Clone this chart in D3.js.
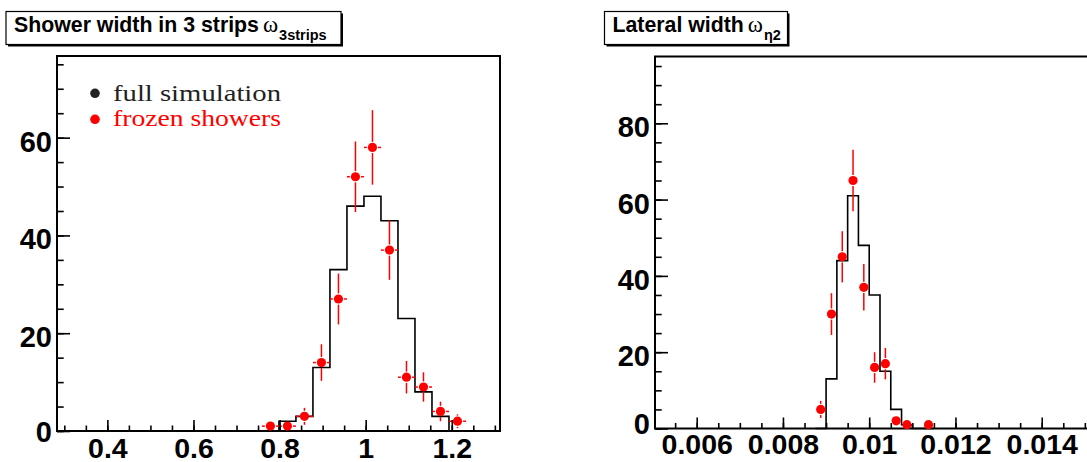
<!DOCTYPE html>
<html lang="en">
<head>
  <meta charset="UTF-8">
  <title>Shower widths</title>
  <script src="https://cdn.jsdelivr.net/npm/d3@7/dist/d3.min.js"></script>
  <style>
    body{ margin: 0; background: #fff; }
  </style>
</head>
<body>
  <div class="warp"></div>
  <script>
    // left pad: shower width in 3 strips
    var leftBinStart = 0.759;
    var leftBinWidth = 0.0395;
    var leftFull   = [0, 2, 3, 13, 33, 46, 48, 43, 23, 8, 3, 0];
    var leftFrozen = [1, 1, 3, 14, 27, 52, 58, 37, 11, 9, 4, 2];
    var leftXTicks  = [0.4, 0.6, 0.8, 1, 1.2];
    var leftXLabels = ['0.4', '0.6', '0.8', '1', '1.2'];
    var leftYTicks  = [0, 20, 40, 60];

    // right pad: lateral width
    var rightBinStart = 0.00875;
    var rightBinWidth = 0.00025;
    var rightFull   = [0, 13, 44, 61, 48, 35, 15, 5, 1, 0, 0];
    var rightFrozen = [5, 30, 45, 65, 37, 16, 17, 2, 1, 0, 1];
    var rightXTicks  = [0.006, 0.008, 0.01, 0.012, 0.014];
    var rightXLabels = ['0.006', '0.008', '0.01', '0.012', '0.014'];
    var rightYTicks  = [0, 20, 40, 60, 80];

    var legendLabels = ['full simulation', 'frozen showers'];
    var legendColors = ['#222', '#ff0000'];

    var SANS = '"Liberation Sans", Arial, Helvetica, sans-serif';
    var SERIF = '"Liberation Serif", "DejaVu Serif", serif';

    var W = 1087, H = 462;
    var svg = d3.select('.warp').append('svg')
      .attr('width', W).attr('height', H)
      .style('display', 'block');

    function drawPad(o) {
      var x = d3.scaleLinear().domain(o.xDomain).range([o.x0, o.x1]);
      var y = d3.scaleLinear().domain([0, o.yMax]).range([o.y1, o.y0]);
      var g = svg.append('g');

      // frame
      g.append('rect')
        .attr('x', o.x0).attr('y', o.y0)
        .attr('width', o.x1 - o.x0).attr('height', o.y1 - o.y0)
        .attr('fill', 'none').attr('stroke', '#000').attr('stroke-width', 2);

      // histogram outline (full simulation)
      var pts = [];
      o.full.forEach(function(v, i) {
        var a = o.binStart + i * o.binWidth;
        if (i === 0) pts.push([a, 0]);
        pts.push([a, v]);
        pts.push([a + o.binWidth, v]);
      });
      pts.push([o.binStart + o.full.length * o.binWidth, 0]);
      var line = d3.line().x(function(d){ return x(d[0]); }).y(function(d){ return y(d[1]); });
      g.append('path').attr('d', line(pts))
        .attr('fill', 'none').attr('stroke', '#000').attr('stroke-width', 1.6);

      // frozen showers points with errors
      var r = 4.6, gap = 1;
      var pd = o.frozen.map(function(v, i) {
        return { c: o.binStart + (i + 0.5) * o.binWidth, v: v };
      }).filter(function(d){ return d.v > 0; });
      var err = g.append('g').attr('stroke', '#ff0000').attr('stroke-width', 1.5);
      pd.forEach(function(d) {
        var cx = x(d.c), cy = y(d.v);
        var hw = (x(o.binWidth) - x(0)) / 2;
        var ey = y(d.v - Math.sqrt(d.v)) - cy;
        if (ey > r + gap) {
          err.append('line').attr('x1', cx).attr('x2', cx).attr('y1', cy - ey).attr('y2', cy - r - gap);
          err.append('line').attr('x1', cx).attr('x2', cx).attr('y1', cy + r + gap).attr('y2', cy + ey);
        }
        if (hw > r + gap) {
          err.append('line').attr('y1', cy).attr('y2', cy).attr('x1', cx - hw).attr('x2', cx - r - gap);
          err.append('line').attr('y1', cy).attr('y2', cy).attr('x1', cx + r + gap).attr('x2', cx + hw);
        }
      });
      g.selectAll('circle.pt').data(pd).enter().append('circle')
        .attr('class', 'pt')
        .attr('cx', function(d){ return x(d.c); })
        .attr('cy', function(d){ return y(d.v); })
        .attr('r', r).attr('fill', '#ff0000');

      // axes, ticks inside the frame
      var xMinor = d3.range(Math.ceil(o.xDomain[0] / o.xMinor), Math.floor(o.xDomain[1] / o.xMinor) + 1)
        .map(function(k){ return k * o.xMinor; });
      var yMinor = d3.range(0, o.yMax, o.yMinor);

      g.append('g').attr('transform', 'translate(0,' + o.y1 + ')')
        .call(d3.axisBottom(x).tickValues(xMinor).tickSize(-5.5).tickFormat(''))
        .call(function(s){ s.select('.domain').remove(); });
      var xa = g.append('g').attr('transform', 'translate(0,' + o.y1 + ')')
        .call(d3.axisBottom(x).tickValues(o.xTicks).tickSize(-11).tickPadding(o.xPad)
          .tickFormat(function(d, i){ return o.xLabels[i]; }));
      xa.select('.domain').remove();

      g.append('g').attr('transform', 'translate(' + o.x0 + ',0)')
        .call(d3.axisLeft(y).tickValues(yMinor).tickSize(-6.7).tickFormat(''))
        .call(function(s){ s.select('.domain').remove(); });
      var ya = g.append('g').attr('transform', 'translate(' + o.x0 + ',0)')
        .call(d3.axisLeft(y).tickValues(o.yTicks).tickSize(-13).tickPadding(5));
      ya.select('.domain').remove();

      xa.selectAll('text').attr('font-size', 28.5);
      ya.selectAll('text').attr('font-size', 29);
      [xa, ya].forEach(function(a) {
        a.selectAll('text').attr('font-weight', 'bold')
          .attr('font-family', SANS).attr('fill', '#000');
      });
      g.selectAll('.tick line').attr('stroke', '#000').attr('stroke-width', 1.6);
      ya.selectAll('text').attr('dy', function(d){ return d === 0 ? o.zeroDy : 13.5; });

      // title box with shadow
      var tb = o.title;
      g.append('rect').attr('x', tb.x + 2).attr('y', tb.y + 2)
        .attr('width', tb.w).attr('height', tb.h).attr('fill', '#000');
      g.append('rect').attr('x', tb.x).attr('y', tb.y)
        .attr('width', tb.w).attr('height', tb.h)
        .attr('fill', '#fff').attr('stroke', '#000').attr('stroke-width', 1.2);
      var t = g.append('text').attr('x', tb.x + 8).attr('y', tb.y + 20.5)
        .attr('font-family', SANS).attr('font-weight', 'bold').attr('font-size', 21.3);
      t.append('tspan').text(tb.text);
      t.append('tspan').attr('dx', 4)
        .attr('font-family', SERIF)
        .attr('font-weight', 'normal').attr('font-size', 23).text('\u03c9');
      t.append('tspan').attr('dy', 8).attr('dx', 1).attr('font-size', 14.5).text(tb.sub);

      return { x: x, y: y, g: g };
    }

    var left = drawPad({
      x0: 57, x1: 500, y0: 56, y1: 431,
      xDomain: [0.283, 1.312], yMax: 76.7,
      xMinor: 0.05, yMinor: 5, xPad: 6.5, zeroDy: 10.5,
      binStart: leftBinStart, binWidth: leftBinWidth,
      full: leftFull, frozen: leftFrozen,
      xTicks: leftXTicks, xLabels: leftXLabels, yTicks: leftYTicks,
      title: { x: 6, y: 11.5, w: 335, h: 33, text: 'Shower width in 3 strips', sub: '3strips' }
    });

    var right = drawPad({
      x0: 655, x1: 1092, y0: 56.5, y1: 428.5,
      xDomain: [0.005033, 0.015166], yMax: 97.5,
      xMinor: 0.0005, yMinor: 5, xPad: 5, zeroDy: 5,
      binStart: rightBinStart, binWidth: rightBinWidth,
      full: rightFull, frozen: rightFrozen,
      xTicks: rightXTicks, xLabels: rightXLabels, yTicks: rightYTicks,
      title: { x: 604.5, y: 11.5, w: 183, h: 33, text: 'Lateral width', sub: '\u03b72' }
    });

    // legend on the left pad
    var lg = left.g.append('g');
    legendLabels.forEach(function(lab, i) {
      lg.append('circle').attr('cx', 95).attr('cy', 93.3 + i * 26).attr('r', 4.8)
        .attr('fill', legendColors[i]);
      lg.append('text').attr('x', 113).attr('y', 100.7 + i * 25.5)
        .style('font-family', SERIF)
        .attr('font-size', 24).attr('fill', legendColors[i])
        .attr('textLength', 168).attr('lengthAdjust', 'spacingAndGlyphs')
        .text(lab);
    });
  </script>
</body>
</html>
